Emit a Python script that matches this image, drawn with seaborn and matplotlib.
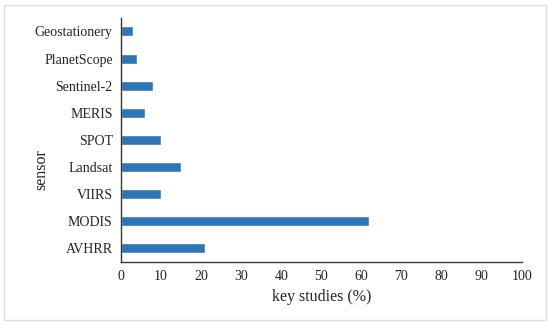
import matplotlib
matplotlib.use('Agg')
import matplotlib.pyplot as plt
import seaborn as sns
import pandas as pd

sensors = ['Geostationery', 'PlanetScope', 'Sentinel-2', 'MERIS', 'SPOT',
           'Landsat', 'VIIRS', 'MODIS', 'AVHRR']
share = [3, 4, 8, 6, 10, 15, 10, 62, 21]
xticks = [0, 10, 20, 30, 40, 50, 60, 70, 80, 90, 100]

df = pd.DataFrame({'sensor': sensors, 'key studies (%)': share})

sns.set_style('white')
plt.rcParams['font.family'] = ['Liberation Serif', 'DejaVu Serif']

fig = plt.figure(figsize=(5.5, 3.25), dpi=100)
ax = fig.add_axes([0.22, 0.194, 0.7285, 0.751])
sns.barplot(data=df, x='key studies (%)', y='sensor', color='#2E75B6',
            saturation=1, width=0.37, ax=ax)

ax.set_xlim(0, 100)
ax.set_xticks(xticks)
ax.tick_params(axis='both', length=0, labelsize=10, colors='#222222', pad=6)
ax.set_xlabel('key studies (%)', fontsize=11.5, color='#222222', labelpad=4)
ax.set_ylabel('sensor', fontsize=11.5, color='#222222')
ax.yaxis.set_label_coords(-0.18, 0.377)
for s in ['top', 'right']:
    ax.spines[s].set_visible(False)
for s in ['left', 'bottom']:
    ax.spines[s].set_color('#333333')
    ax.spines[s].set_linewidth(1)

# light frame around the figure
fig.patches.append(plt.Rectangle((0.008, 0.015), 0.984, 0.97, transform=fig.transFigure,
                                 fill=False, edgecolor='#dddddd', linewidth=1))

fig.savefig('out.png', dpi=100)
